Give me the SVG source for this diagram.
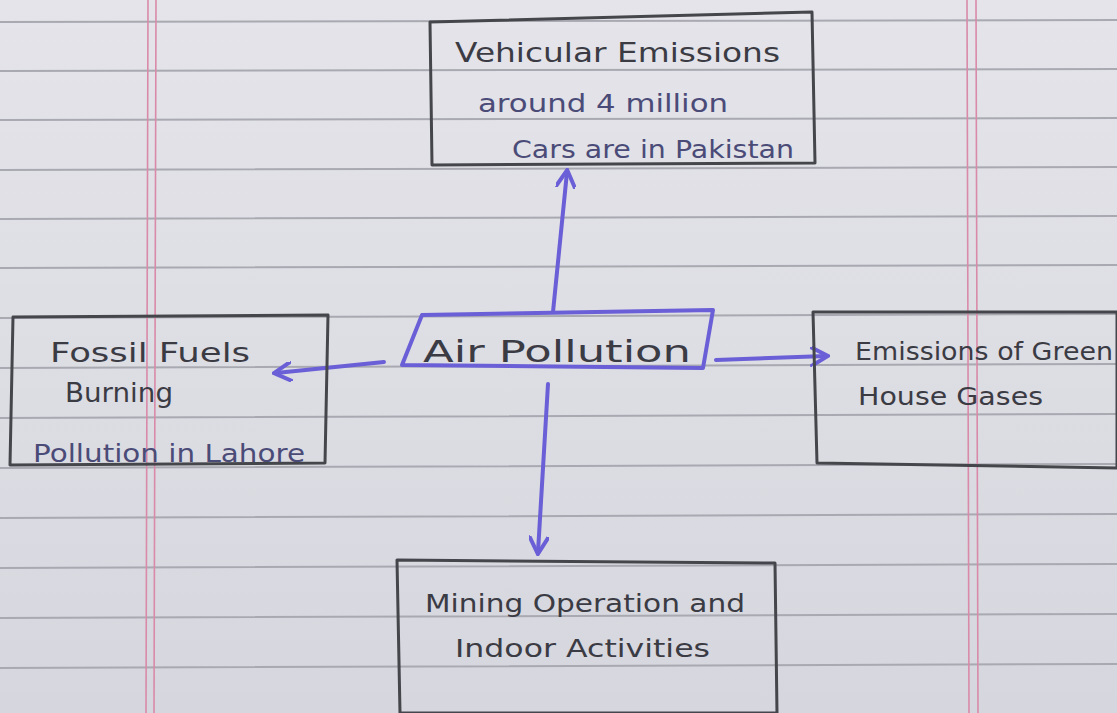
<svg xmlns="http://www.w3.org/2000/svg" width="1117" height="713" viewBox="0 0 1117 713">
<defs>
<style>
.rule{stroke:#a9a9b2;stroke-width:2;fill:none}
.margin{stroke:#d98aa8;stroke-width:1.6;fill:none}
.box{fill:none;stroke:#45454c;stroke-width:3;stroke-linejoin:round}
.abox{fill:none;stroke:#6a5fd6;stroke-width:4;stroke-linejoin:round}
.conn{stroke:#6a5fd6;stroke-width:4;fill:none;stroke-linecap:round}
.t{font-family:"DejaVu Sans","Liberation Sans",sans-serif;font-weight:normal;fill:#3b3b44}
.tb{fill:#4b4b78}
</style>
<marker id="ah" viewBox="0 0 10 10" refX="8" refY="5" markerWidth="5" markerHeight="5" orient="auto" markerUnits="strokeWidth">
<path d="M0,0 L9,5 L0,10" fill="none" stroke="#6a5fd6" stroke-width="2"/>
</marker>
<linearGradient id="bg" x1="0" y1="0" x2="0" y2="1">
<stop offset="0" stop-color="#e4e4ea"/>
<stop offset="1" stop-color="#d6d6de"/>
</linearGradient>
</defs>
<rect width="1117" height="713" fill="url(#bg)"/>
<g id="paper">
<path class="rule" d="M0,22 L1117,20 M0,71 L1117,69 M0,120 L1117,118 M0,170 L1117,167 M0,219 L1117,216 M0,268 L1117,265 M0,318 L1117,314 M0,368 L1117,364 M0,418 L1117,414 M0,468 L1117,464 M0,518 L1117,514 M0,568 L1117,564 M0,618 L1117,614 M0,668 L1117,664"/>
<path class="margin" d="M148,0 L146,713 M156,0 L154,713 M967,0 L969,713 M976,0 L978,713"/>
</g>
<g id="connectors">
<line class="conn" x1="553" y1="312" x2="567" y2="172" marker-end="url(#ah)"/>
<line class="conn" x1="384" y1="362" x2="276" y2="373" marker-end="url(#ah)"/>
<line class="conn" x1="716" y1="360" x2="826" y2="356" marker-end="url(#ah)"/>
<line class="conn" x1="548" y1="384" x2="538" y2="552" marker-end="url(#ah)"/>
</g>
<g id="vehicular">
<polygon class="box" points="430,22 812,12 815,163 432,165"/>
<text class="t" x="455" y="62" font-size="27" textLength="325" lengthAdjust="spacingAndGlyphs">Vehicular  Emissions</text>
<text class="t tb" x="478" y="112" font-size="24" textLength="250" lengthAdjust="spacingAndGlyphs">around 4 million</text>
<text class="t tb" x="512" y="158" font-size="25" textLength="282" lengthAdjust="spacingAndGlyphs">Cars are in Pakistan</text>
</g>
<g id="fossil">
<polygon class="box" points="13,317 328,315 325,463 10,465"/>
<text class="t" x="50" y="362" font-size="26" textLength="200" lengthAdjust="spacingAndGlyphs">Fossil Fuels</text>
<text class="t" x="65" y="402" font-size="26" textLength="108" lengthAdjust="spacingAndGlyphs">Burning</text>
<text class="t tb" x="33" y="462" font-size="24" textLength="272" lengthAdjust="spacingAndGlyphs">Pollution in Lahore</text>
</g>
<g id="air">
<polygon class="abox" points="422,315 713,310 703,368 402,365"/>
<text class="t" x="423" y="362" font-size="31" textLength="268" lengthAdjust="spacingAndGlyphs">Air  Pollution</text>
</g>
<g id="greenhouse">
<polygon class="box" points="813,312 1117,312 1117,468 817,463"/>
<text class="t" x="855" y="360" font-size="25" textLength="258" lengthAdjust="spacingAndGlyphs">Emissions of Green</text>
<text class="t" x="858" y="405" font-size="25" textLength="185" lengthAdjust="spacingAndGlyphs">House Gases</text>
</g>
<g id="mining">
<polygon class="box" points="397,560 775,563 777,713 400,713"/>
<text class="t" x="425" y="612" font-size="25" textLength="320" lengthAdjust="spacingAndGlyphs">Mining Operation and</text>
<text class="t" x="455" y="657" font-size="25" textLength="255" lengthAdjust="spacingAndGlyphs">Indoor  Activities</text>
</g>
</svg>
